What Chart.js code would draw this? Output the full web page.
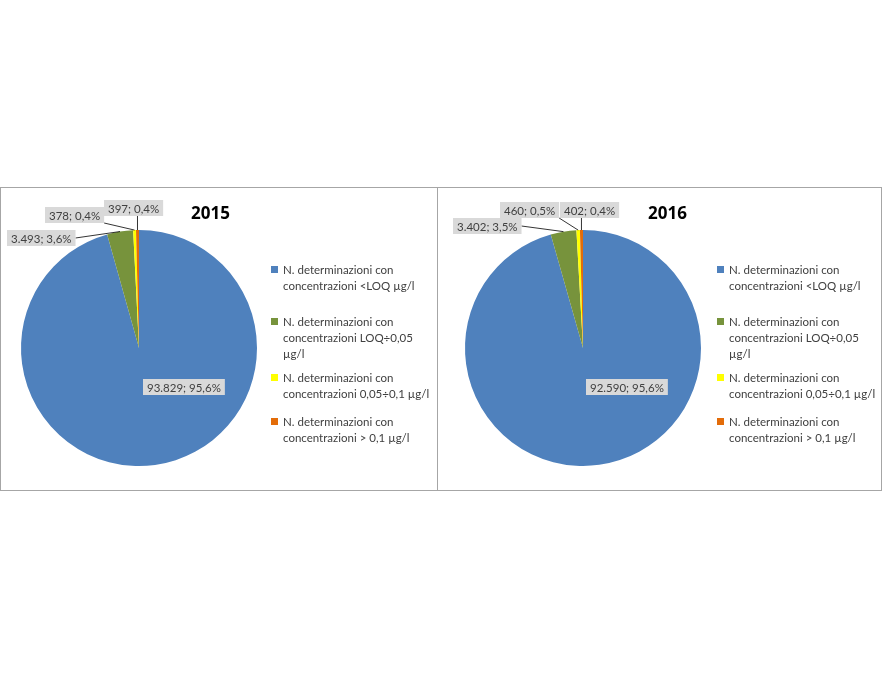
<!DOCTYPE html>
<html><head><meta charset="utf-8">
<script src="https://cdn.jsdelivr.net/npm/chart.js@4"></script>
<style>
body{margin:0;background:#fff;font-family:Lato,sans-serif;}
.panel{position:absolute;top:187px;height:304px;border:1px solid #a6a6a6;box-sizing:border-box;}
.panel canvas{position:absolute;left:0;top:0;}
.title{position:absolute;top:13px;font-weight:bold;font-size:17px;font-family:"Open Sans",sans-serif;}
.legend{position:absolute;top:0;font-size:11.5px;color:#404040;line-height:16px;}
.legend span{position:absolute;left:0;top:4px;width:7px;height:7px;}
</style></head><body>
<div class="panel" id="p1" style="left:0;width:438px"><canvas id="c1"></canvas><div class="title" style="left:190px">2015</div><div class="legend" id="l1" style="left:270px"></div></div>
<div class="panel" id="p2" style="left:437px;width:445px"><canvas id="c2"></canvas><div class="title" style="left:210px">2016</div><div class="legend" id="l2" style="left:279px"></div></div>
<script>
var categories = ["N. determinazioni con concentrazioni <LOQ µg/l", "N. determinazioni con concentrazioni LOQ÷0,05 µg/l", "N. determinazioni con concentrazioni 0,05÷0,1 µg/l", "N. determinazioni con concentrazioni > 0,1 µg/l"];
var legendLines = [["N. determinazioni con", "concentrazioni <LOQ µg/l"], ["N. determinazioni con", "concentrazioni LOQ÷0,05", "µg/l"], ["N. determinazioni con", "concentrazioni 0,05÷0,1 µg/l"], ["N. determinazioni con", "concentrazioni > 0,1 µg/l"]];
var values2015 = [93829, 3493, 378, 397];
var values2016 = [92590, 3402, 460, 402];
var labels2015 = ["93.829; 95,6%", "3.493; 3,6%", "378; 0,4%", "397; 0,4%"];
var labels2016 = ["92.590; 95,6%", "3.402; 3,5%", "460; 0,5%", "402; 0,4%"];
var colors = ["#4f81bd", "#77933c", "#ffff00", "#e36c09"];

function legendHtml(id, tops) {
  var box = document.getElementById(id);
  legendLines.forEach(function (lines, i) {
    var d = document.createElement("div");
    d.style.cssText = "position:absolute;left:0;padding-left:12px;white-space:nowrap;top:" + tops[i] + "px";
    var s = document.createElement("span");
    s.style.background = colors[i];
    d.appendChild(s);
    lines.forEach(function (l, k) {
      if (k) d.appendChild(document.createElement("br"));
      d.appendChild(document.createTextNode(l));
    });
    box.appendChild(d);
  });
}
legendHtml("l1", [74, 126, 182, 226]);
legendHtml("l2", [74, 126, 182, 226]);

var labelPlugin = {
  id: "boxLabels",
  afterDatasetsDraw: function (chart) {
    var ctx = chart.ctx, o = chart.options.plugins.boxLabels;
    var arcs = chart.getDatasetMeta(0).data;
    ctx.save();
    ctx.font = "11.5px Lato, sans-serif";
    o.texts.forEach(function (t, i) {
      var p = o.pos[i], w = ctx.measureText(t).width + 8, hgt = 16;
      var a = arcs[i];
      if (i > 0) {
        var ang = (a.startAngle + a.endAngle) / 2;
        var ex = a.x + Math.cos(ang) * a.outerRadius, ey = a.y + Math.sin(ang) * a.outerRadius;
        var bx = ex < p[0] ? p[0] : (ex > p[0] + w ? p[0] + w : ex);
        var by = p[1] + hgt;
        if (i === 1) { bx = p[0] + w; by = p[1] + hgt / 2; }
        ctx.strokeStyle = "#000"; ctx.lineWidth = 0.8;
        ctx.beginPath(); ctx.moveTo(bx, by); ctx.lineTo(ex, ey); ctx.stroke();
      }
      ctx.fillStyle = "#d9d9d9";
      ctx.fillRect(p[0], p[1], w, hgt);
      ctx.fillStyle = "#404040"; ctx.textBaseline = "middle";
      ctx.fillText(t, p[0] + 4, p[1] + hgt / 2 + 1);
    });
    ctx.restore();
  }
};

function makePie(id, w, padLR, values, texts, pos) {
  var cv = document.getElementById(id);
  cv.width = w; cv.height = 304;
  return new Chart(cv, {
    type: "pie",
    data: { labels: categories, datasets: [{ data: values, backgroundColor: colors, borderWidth: 0 }] },
    options: {
      responsive: false, animation: false,
      rotation: 0,
      layout: { padding: { left: padLR, right: padLR, top: 42, bottom: 26 } },
      plugins: { legend: { display: false }, tooltip: { enabled: false }, boxLabels: { texts: texts, pos: pos } }
    },
    plugins: [labelPlugin]
  });
}
makePie("c1", 276, 20, values2015, labels2015, [[142, 191], [6, 42], [44, 19], [103, 12]]);
makePie("c2", 290, 27, values2016, labels2016, [[148, 191], [15, 30], [62, 14], [122, 14]]);
</script>
</body></html>
